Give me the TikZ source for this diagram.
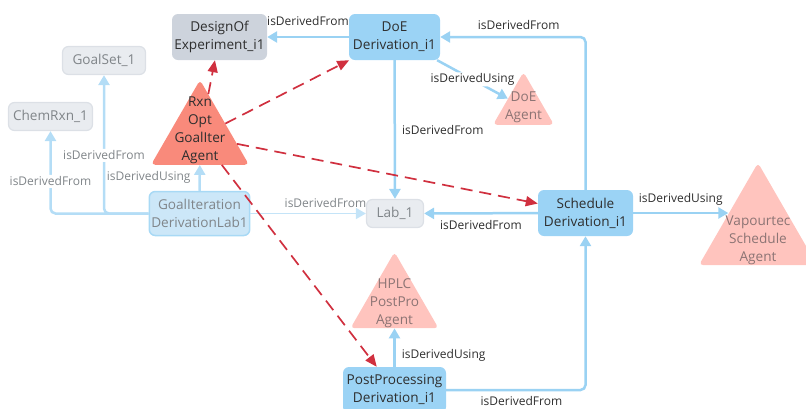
\documentclass[tikz,border=0pt]{standalone}
\usepackage{fontspec}
\setmainfont{Open Sans}
\usepackage{tikz}
\usetikzlibrary{shapes.geometric, arrows.meta}

\definecolor{derivblue}{HTML}{9BD3F5}
\definecolor{goalfill}{HTML}{CCE7F8}
\definecolor{goalline}{HTML}{A8D9F5}
\definecolor{datagray}{HTML}{CDD3DC}
\definecolor{palegray}{HTML}{E9ECF0}
\definecolor{palegrayline}{HTML}{DCE0E6}
\definecolor{agentred}{HTML}{F98A7B}
\definecolor{agentpink}{HTML}{FFC4BE}
\definecolor{edgeblue}{HTML}{9AD2F3}
\definecolor{edgepale}{HTML}{B4DDF6}
\definecolor{edgethin}{HTML}{C4E4F8}
\definecolor{dashred}{HTML}{D0303F}
\definecolor{darktext}{HTML}{2E2E2E}
\definecolor{graytext}{HTML}{808589}
\definecolor{pinktext}{HTML}{8C7474}

\newcommand{\derivfont}{\fontsize{13.6}{18}\selectfont}
\newcommand{\edgefont}{\fontsize{12}{14}\selectfont}

\tikzset{
  deriv/.style={rectangle, rounded corners=6pt, fill=derivblue, text=darktext,
    align=center, font=\derivfont, minimum height=46pt, inner sep=2pt},
  goalbox/.style={deriv, fill=goalfill, draw=goalline, line width=1.5pt, text=graytext, minimum height=44pt},
  dataobj/.style={deriv, fill=datagray},
  olddata/.style={deriv, fill=palegray, draw=palegrayline, line width=1.2pt, text=graytext, minimum height=28pt},
  agent/.style={regular polygon, regular polygon sides=3, rounded corners=4pt, fill=agentred, inner sep=0pt},
  oldagent/.style={agent, fill=agentpink},
  tritext/.style={align=center, font=\derivfont, text=darktext},
  oldtritext/.style={tritext, text=pinktext},
  link/.style={-{Triangle[length=10pt,width=11pt]}, draw=edgeblue, line width=2.5pt, rounded corners=5pt},
  fadedlink/.style={link, draw=edgepale},
  thinlink/.style={-{Triangle[length=10pt,width=11pt]}, draw=edgethin, line width=1.5pt},
  agentlink/.style={-{Triangle[length=12pt,width=10pt]}, draw=dashred, line width=1.7pt, dash pattern=on 12pt off 7pt},
  lbl/.style={font=\edgefont, text=darktext, inner sep=2pt},
  fadedlbl/.style={lbl, text=graytext},
}

\begin{document}
\begin{tikzpicture}[x=1pt, y=-1pt]
\useasboundingbox (0,0) rectangle (806,408);

% derivations and data
\node[dataobj, minimum width=95pt] (design_exp) at (219.5,37) {DesignOf\\Experiment\_i1};
\node[deriv, minimum width=91pt] (doe_deriv) at (394.5,37) {DoE\\Derivation\_i1};
\node[deriv, minimum width=95pt] (sched_deriv) at (585.5,213) {Schedule\\Derivation\_i1};
\node[deriv, minimum width=103pt] (post_deriv) at (394.5,390) {PostProcessing\\Derivation\_i1};
\node[goalbox, minimum width=96pt] (goal_iter) at (199.5,213.5) {GoalIteration\\DerivationLab1};
\node[olddata, minimum width=83pt] (goal_set) at (104,60.5) {GoalSet\_1};
\node[olddata, minimum width=84pt] (chem_rxn) at (50.5,116.5) {ChemRxn\_1};
\node[olddata, minimum width=57pt] (lab) at (395,213.5) {Lab\_1};

% agents
\node[agent, minimum size=113pt, label={[tritext, yshift=5.75pt]center:Rxn\\Opt\\GoalIter\\Agent}] (rxn_agent) at (200,136.5) {};
\node[oldagent, minimum size=70.4pt, label={[oldtritext]center:DoE\\Agent}] (doe_agent) at (523.5,107.2) {};
\node[oldagent, minimum size=101.6pt, label={[oldtritext]center:HPLC\\PostPro\\Agent}] (hplc_agent) at (394.5,302.8) {};
\node[oldagent, minimum size=136.3pt, label={[oldtritext, yshift=-9.5pt]center:Vapourtec\\Schedule\\Agent}] (vap_agent) at (758,231) {};

\draw[link] (doe_deriv) -- node[lbl, above=8pt] {isDerivedFrom} (design_exp);
\draw[link] (sched_deriv) |- node[lbl, above=4pt, pos=0.73] {isDerivedFrom} (doe_deriv);
\draw[link] (doe_deriv) -- node[lbl, fill=white, inner sep=1pt] {isDerivedUsing} (doe_agent);
\draw[link] (doe_deriv) -- node[lbl, right=4pt] {isDerivedFrom} (lab);
\draw[link] (sched_deriv) -- node[lbl, below=4pt] {isDerivedFrom} (lab);
\draw[link] (sched_deriv) -- node[lbl, above=4pt] {isDerivedUsing} (sched_deriv -| vap_agent.side 1);
\draw[link] (post_deriv) -| node[lbl, below=3pt, pos=0.27] {isDerivedFrom} (sched_deriv);
\draw[link] (post_deriv) -- node[lbl, right=4pt, pos=0.3] {isDerivedUsing} (hplc_agent);

\draw[fadedlink] (goal_iter) -- node[fadedlbl, left=6pt] {isDerivedUsing} (rxn_agent);
\draw[fadedlink] (goal_iter) -| node[fadedlbl, fill=white, pos=0.71] {isDerivedFrom} (goal_set);
\draw[fadedlink] (goal_iter) -| node[fadedlbl, fill=white, pos=0.695] {isDerivedFrom} (chem_rxn);
\draw[thinlink] (goal_iter) -- node[fadedlbl, above=3pt, pos=0.65] {isDerivedFrom} (lab);

% agent outputs
\draw[agentlink] (rxn_agent) -- (design_exp);
\draw[agentlink] (rxn_agent) -- (doe_deriv);
\draw[agentlink] (rxn_agent) -- (sched_deriv);
\draw[agentlink] (rxn_agent) -- (post_deriv);

\end{tikzpicture}
\end{document}
